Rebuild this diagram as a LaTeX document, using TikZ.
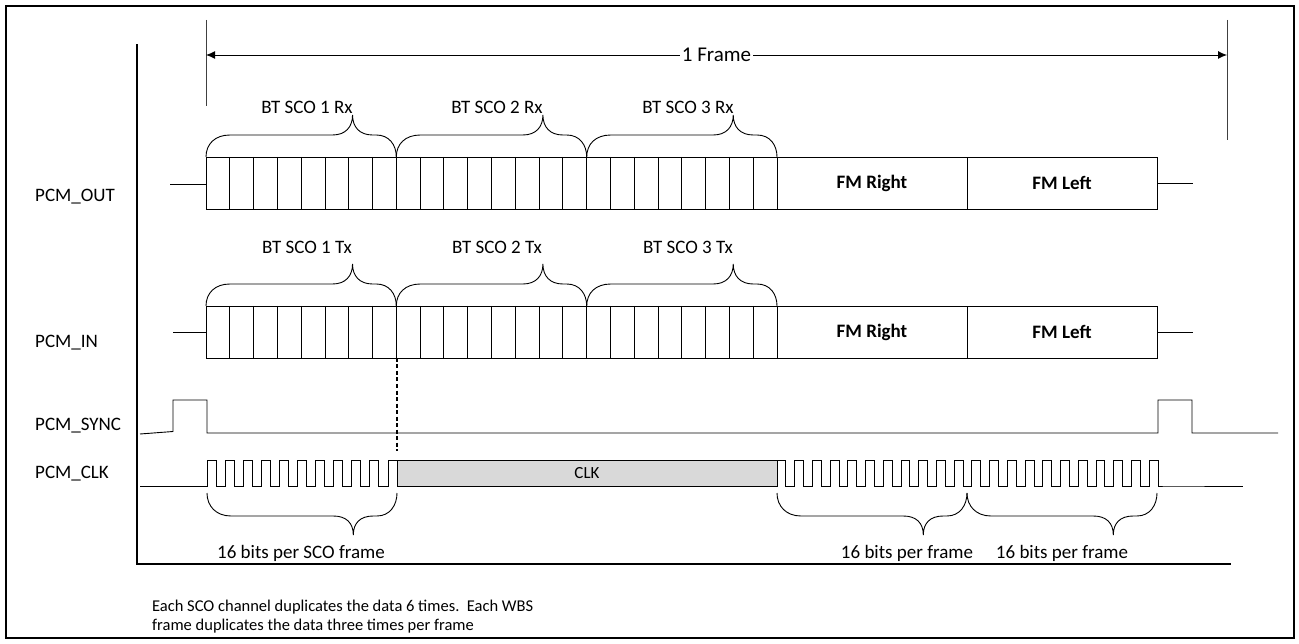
\documentclass[tikz,border=0pt]{standalone}
\usepackage{fontspec}
\setmainfont{Carlito}
\usetikzlibrary{arrows.meta}
\newcommand{\upbrace}[3]{%
  \pgfmathsetmacro{\bxt}{#1+0.77*(#2-#1)}%
  \draw[ln] (#1,#3) .. controls (#1,#3-13) and (#1+9,#3-22) .. (#1+24,#3-22)
    -- (\bxt-20,#3-22) .. controls (\bxt-7,#3-22) and (\bxt,#3-30) .. (\bxt,#3-42)
    .. controls (\bxt,#3-30) and (\bxt+7,#3-22) .. (\bxt+20,#3-22)
    -- (#2-20,#3-22) .. controls (#2-7,#3-22) and (#2,#3-12) .. (#2,#3);}
\newcommand{\downbrace}[3]{%
  \pgfmathsetmacro{\bxt}{#1+0.77*(#2-#1)}%
  \draw[ln] (#1,#3) .. controls (#1,#3+13) and (#1+9,#3+23) .. (#1+24,#3+23)
    -- (\bxt-20,#3+23) .. controls (\bxt-7,#3+23) and (\bxt,#3+30) .. (\bxt,#3+42)
    .. controls (\bxt,#3+30) and (\bxt+7,#3+23) .. (\bxt+20,#3+23)
    -- (#2-20,#3+23) .. controls (#2-7,#3+23) and (#2,#3+12) .. (#2,#3);}
\begin{document}
\begin{tikzpicture}[x=1pt,y=-1pt,
  ln/.style={line width=0.9pt, draw=black},
  thick frame/.style={line width=2.8pt, draw=black},
  lbl/.style={font=\fontsize{19}{23}\selectfont, inner sep=0pt},
  bold lbl/.style={font=\fontsize{19}{23}\selectfont\bfseries, inner sep=0pt},
  note/.style={font=\fontsize{16.5}{20}\selectfont, inner sep=0pt, anchor=base west}]
\useasboundingbox (0,0) rectangle (1299,644);
% outer border
\draw[thick frame] (6,6) rectangle (1294,638);
% axes
\draw[thick frame, line cap=rect] (137,45) -- (137,564) -- (1230,564);
% frame dimension
\draw[ln, draw=black!75] (206,20) -- (206,106);
\draw[ln, draw=black!75] (1227,20) -- (1227,140);
\coordinate (fl) at (206,55);
\coordinate (fr) at (1227,55);
\draw[ln, {Latex[length=9pt,width=8pt]}-{Latex[length=9pt,width=8pt]}] (fl) -- (fr);
\node[font=\fontsize{21}{25}\selectfont, fill=white, inner xsep=1.5pt, inner ysep=2pt] (frame) at (716.5,55) {1 Frame};
% signal labels
\node[lbl, anchor=base west] (lout) at (35,202) {PCM\_OUT};
\node[lbl, anchor=base west] (lin) at (35,348) {PCM\_IN};
\node[lbl, anchor=base west] (lsync) at (35,430) {PCM\_SYNC};
\node[lbl, anchor=base west] (lclk) at (35,478) {PCM\_CLK};
% PCM_OUT row
\draw[ln] (170,184) -- (206,184);
\draw[ln] (206,157) rectangle (777,209);
\foreach \k in {1,...,23} \draw[ln] ({206+\k*23.79},157) -- ({206+\k*23.79},209);
\draw[ln] (777,157) rectangle (967,209);
\draw[ln] (967,157) rectangle (1157,209);
\node[bold lbl] (ofmr) at (872,183) {FM Right};
\node[bold lbl] (ofml) at (1062,183) {FM Left};
\draw[ln] (1157,183) -- (1193,183);
\upbrace{206}{396.3}{157}
\upbrace{396.3}{586.7}{157}
\upbrace{586.7}{777}{157}
\node[lbl, anchor=base] (r1) at (307,114) {BT SCO 1 Rx};
\node[lbl, anchor=base] (r2) at (497,114) {BT SCO 2 Rx};
\node[lbl, anchor=base] (r3) at (688,114) {BT SCO 3 Rx};
% PCM_IN row
\draw[ln] (173,332) -- (206,332);
\draw[ln] (206,306) rectangle (777,358);
\foreach \k in {1,...,23} \draw[ln] ({206+\k*23.79},306) -- ({206+\k*23.79},358);
\draw[ln] (777,306) rectangle (967,358);
\draw[ln] (967,306) rectangle (1157,358);
\node[bold lbl] (ifmr) at (872,332) {FM Right};
\node[bold lbl] (ifml) at (1062,332) {FM Left};
\draw[ln] (1157,332) -- (1193,332);
\upbrace{206}{396.3}{306}
\upbrace{396.3}{586.7}{306}
\upbrace{586.7}{777}{306}
\node[lbl, anchor=base] (t1) at (307,254) {BT SCO 1 Tx};
\node[lbl, anchor=base] (t2) at (497,254) {BT SCO 2 Tx};
\node[lbl, anchor=base] (t3) at (688,254) {BT SCO 3 Tx};
% dashed marker
\coordinate (da) at (397,358);
\coordinate (db) at (397,451);
\draw[line width=1.2pt, dash pattern=on 4pt off 2.5pt] (da) -- (db);
% PCM_SYNC
\draw[ln] (140,434) -- (173,431.5) -- (173,400) -- (207,400) -- (207,433)
  -- (1158,433) -- (1158,400) -- (1192,400) -- (1192,433) -- (1278,433);
% PCM_CLK
\draw[ln] (140,486) -- (207,486)
  \foreach \i in {0,...,10} { -- ({207+2*\i*9.048},460) -- ({207+(2*\i+1)*9.048},460)
     -- ({207+(2*\i+1)*9.048},486) -- ({207+(2*\i+2)*9.048},486) };
\draw[ln, fill=black!15] (397,460) rectangle (777,486);
\node[font=\fontsize{17}{20}\selectfont, inner sep=0pt] (clk) at (587,473) {CLK};
\draw[ln] (777,460)
  \foreach \i in {0,...,21} { -- ({777+2*\i*8.86},460) -- ({777+(2*\i+1)*8.86},460)
     -- ({777+(2*\i+1)*8.86},486) -- ({777+(2*\i+2)*8.86},486) } -- (1243,486);
% bottom braces
\downbrace{207}{397}{493}
\downbrace{777}{967}{493}
\downbrace{967}{1157}{493}
\node[lbl, anchor=base] (b1) at (301,558) {16 bits per SCO frame};
\node[lbl, anchor=base] (b2) at (907,558) {16 bits per frame};
\node[lbl, anchor=base] (b3) at (1062,558) {16 bits per frame};
% note
\node[note] (n1) at (152,611) {Each SCO channel duplicates the data 6 times.\ \ Each WBS};
\node[note] (n2) at (152,630) {frame duplicates the data three times per frame};
\end{tikzpicture}
\end{document}
